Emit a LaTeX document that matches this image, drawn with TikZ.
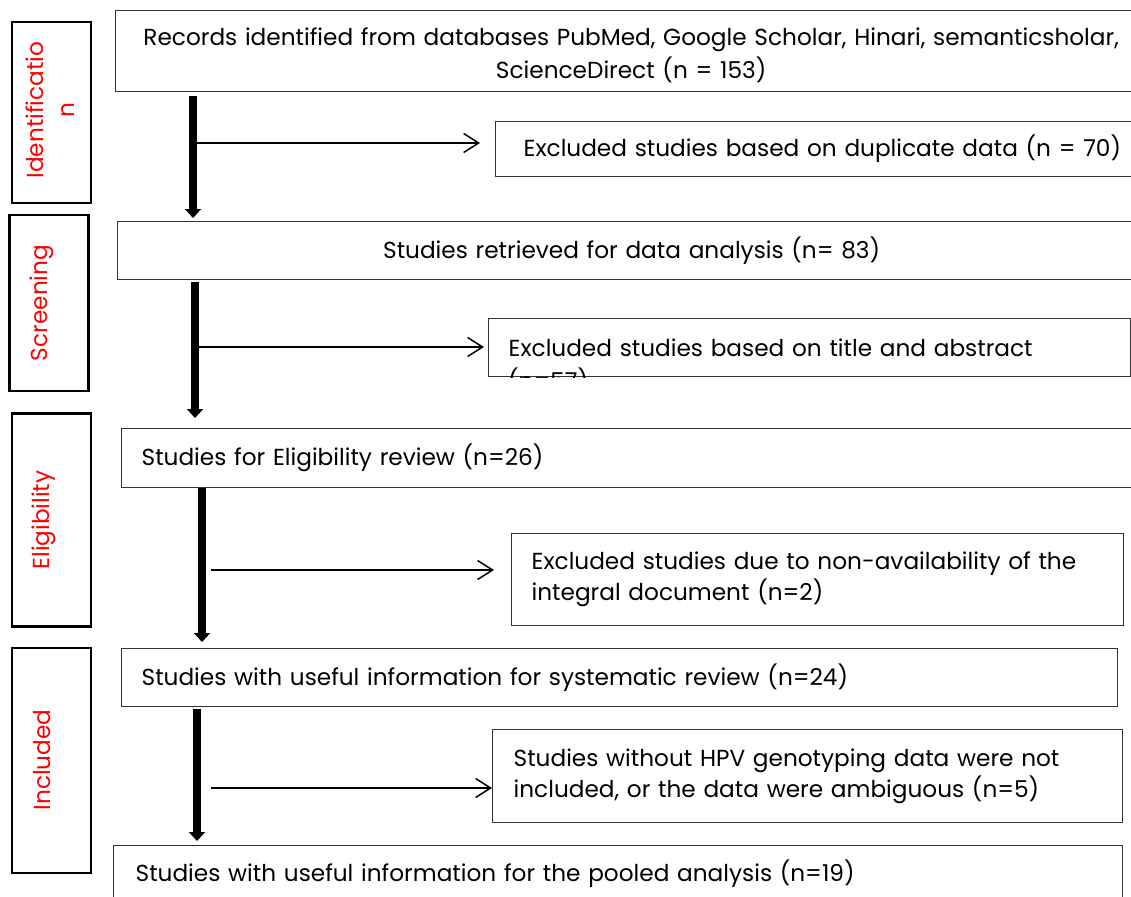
\documentclass[tikz,border=0pt]{standalone}
\usepackage{fontspec}
\setmainfont{Poppins}
\usetikzlibrary{arrows.meta,positioning}

\begin{document}
\begin{tikzpicture}[
        x=1pt,
        y=-1pt,
        font=\fontsize{23.2}{31}\selectfont,
        stagebox/.style={draw=black, line width=2.6pt, minimum width=79pt, inner sep=0pt},
        stagetext/.style={text=red, rotate=90, align=center, inner sep=0pt},
        flowbox/.style={draw=black!80, line width=1.3pt, anchor=north west, inner xsep=20pt, inner ysep=0pt, align=left},
        mainarrow/.style={line width=7.5pt, -{Triangle[length=9pt,width=16pt]}},
        sidearrow/.style={line width=1.5pt, -{Straight Barb[length=15pt,width=19pt]}}
    ]
        \useasboundingbox (0,0) rectangle (1131,896);

        % Stage labels on the left
        \node[stagebox, minimum height=181pt] (identbox) at (51.5,112.5) {};
        \node[stagetext] (identlab) at (50,110) {Identificatio\\n};
        \node[stagebox, minimum height=176pt] (screenbox) at (49,303) {};
        \node[stagetext] (screenlab) at (42,303) {Screening};
        \node[stagebox, minimum height=213pt] (eligbox) at (51.5,520) {};
        \node[stagetext] (eliglab) at (44,520) {Eligibility};
        \node[stagebox, minimum height=225pt] (inclbox) at (51.5,760.5) {};
        \node[stagetext] (incllab) at (42,760) {Included};

        % Faded heading at the top edge
        \node[text=orange!85!black, font=\fontsize{20}{22}\selectfont] (paso) at (636,-7) {Paso};

        % Main column of boxes
        \node[flowbox, inner xsep=10pt, text width=1011pt, minimum height=81pt, align=center] (records) at (115,10)
            {\rule{0pt}{27pt}Records identified from databases PubMed, Google Scholar, Hinari, semanticsholar,\\[2pt]ScienceDirect (n = 153)};
        \node[flowbox, text width=988pt, minimum height=58pt, align=center] (retrieved) at (117,221)
            {Studies retrieved for data analysis (n= 83)};
        \node[flowbox, text width=984pt, minimum height=59pt] (eligrev) at (121,428)
            {Studies for Eligibility review (n=26)};
        \node[flowbox, text width=956pt, minimum height=58pt] (sysrev) at (121,648)
            {Studies with useful information for systematic review (n=24)};
        \node[flowbox, inner xsep=22pt, text width=965pt, minimum height=56pt] (pooled) at (113,845)
            {Studies with useful information for the pooled analysis (n=19)};

        % Exclusion boxes on the right
        \node[flowbox, inner xsep=28pt, text width=650pt, minimum height=55pt] (dupl) at (495,121)
            {Excluded studies based on duplicate data (n = 70)};
        \node[flowbox, text width=602pt, minimum height=58pt] (titleabs) at (488,318)
            {Excluded studies based on title and abstract};
        \begin{scope}
            \clip (titleabs.north west) rectangle (titleabs.south east);
            \node[anchor=base west, inner sep=0pt] (titleabsn) at (508,389) {(n=57)};
        \end{scope}
        \node[flowbox, text width=572pt, minimum height=92pt] (nonavail) at (511,533)
            {Excluded studies due to non-availability of the\\integral document (n=2)};
        \node[flowbox, inner xsep=21pt, text width=588pt, minimum height=93pt] (nohpv) at (492,729)
            {Studies without HPV genotyping data were not\\included, or the data were ambiguous (n=5)};

        % Thick downward arrows
        \coordinate (down1) at (193,96);
        \coordinate (down2) at (195,282);
        \coordinate (down3) at (202,488);
        \coordinate (down4) at (197,709);
        \draw[mainarrow] (down1) -- ([yshift=3pt]down1 |- retrieved.north);
        \draw[mainarrow] (down2) -- ([yshift=10pt]down2 |- eligrev.north);
        \draw[mainarrow] (down3) -- ([yshift=6pt]down3 |- sysrev.north);
        \draw[mainarrow] (down4) -- ([yshift=4pt]down4 |- pooled.north);

        % Thin side arrows to the exclusions
        \coordinate (side1) at (197,143);
        \coordinate (side2) at (199,347);
        \coordinate (side3) at (211,570);
        \coordinate (side4) at (211,788);
        \draw[sidearrow, shorten >=15pt] (side1) -- (side1 -| dupl.west);
        \draw[sidearrow, shorten >=4pt] (side2) -- (side2 -| titleabs.west);
        \draw[sidearrow, shorten >=17pt] (side3) -- (side3 -| nonavail.west);
        \draw[sidearrow] (side4) -- (side4 -| nohpv.west);
    \end{tikzpicture}
\end{document}
